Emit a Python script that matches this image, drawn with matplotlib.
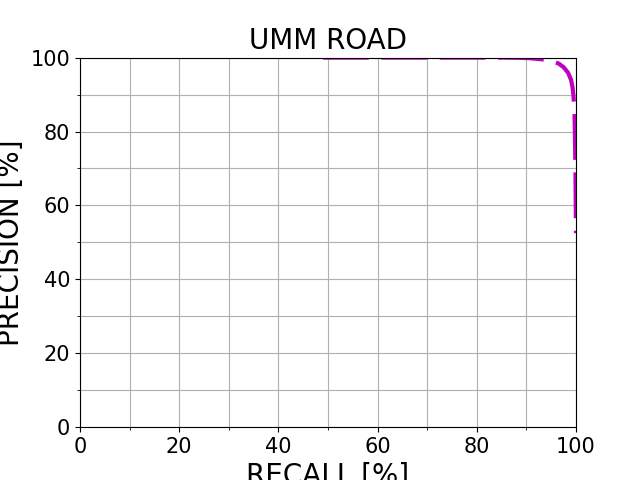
import numpy as np
import matplotlib
matplotlib.use('Agg')
import matplotlib.pyplot as plt

recall = [49, 55, 60, 70, 80, 85, 88, 90.5, 93, 95, 96.5, 97.5, 98.4, 99.0, 99.3, 99.5, 99.7, 99.8, 99.9, 100]
precision = [100, 100, 100, 100, 100, 100, 99.95, 99.85, 99.55, 99.1, 98.4, 97.4, 95.9, 94.0, 92.0, 89.5, 84.5, 78, 68, 52.5]

fig = plt.figure(figsize=(6.4, 4.8), dpi=100)
ax = fig.add_subplot(111)

ax.plot(recall, precision, color='m', linewidth=3, dashes=(11, 3))

ax.set_xlim(0, 100)
ax.set_ylim(0, 100)
ax.set_xticks(np.arange(0, 101, 20))
ax.set_yticks(np.arange(0, 101, 20))
ax.set_xticks(np.arange(0, 101, 10), minor=True)
ax.set_yticks(np.arange(0, 101, 10), minor=True)
ax.grid(True, which='both', color='#b0b0b0', linewidth=0.8)
ax.tick_params(labelsize=15)

ax.set_title('UMM ROAD', fontsize=20)
ax.set_xlabel('RECALL [%]', fontsize=20)
ax.set_ylabel('PRECISION [%]', fontsize=20)

fig.savefig('out.png', dpi=100)
